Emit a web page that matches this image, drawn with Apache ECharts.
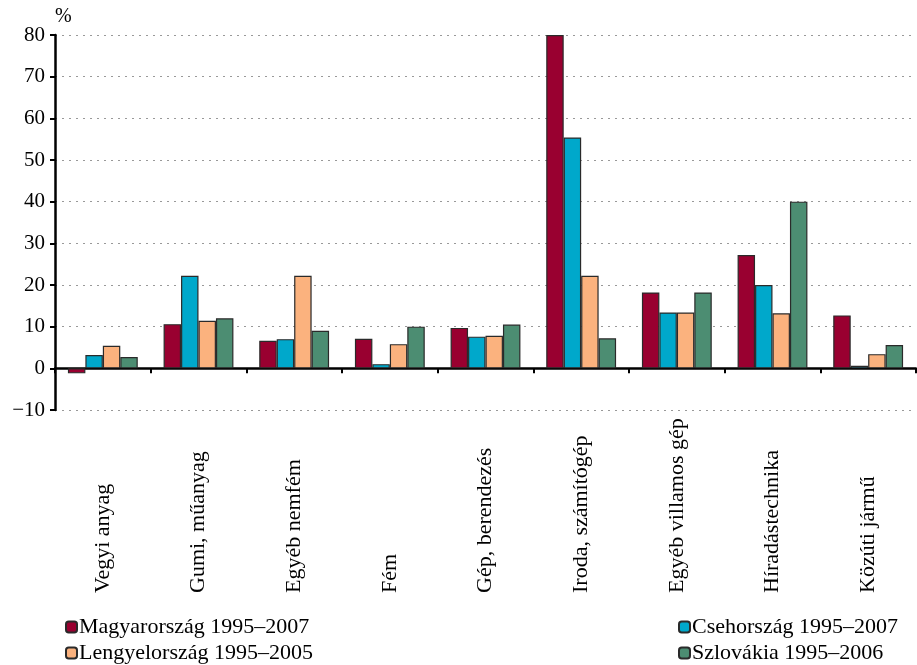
<!DOCTYPE html>
<html><head><meta charset="utf-8">
<script src="https://cdn.jsdelivr.net/npm/echarts@6/dist/echarts.min.js"></script>
<style>html,body{margin:0;padding:0;background:#fff}#c{width:917px;height:665px}</style>
</head><body><div id="c"></div>
<script>
const categories = ['Vegyi anyag','Gumi, műanyag','Egyéb nemfém','Fém','Gép, berendezés','Iroda, számítógép','Egyéb villamos gép','Híradástechnika','Közúti jármű'];
const seriesNames = ['Magyarország 1995–2007','Csehország 1995–2007','Lengyelország 1995–2005','Szlovákia 1995–2006'];
const magyar   = [-1.2, 10.6, 6.6, 7.1, 9.7, 80.0, 18.2, 27.2, 12.7];
const cseh     = [3.2, 22.2, 7.0, 1.0, 7.6, 55.4, 13.4, 20.0, 0.6];
const lengyel  = [5.4, 11.4, 22.2, 5.8, 7.8, 22.2, 13.4, 13.2, 3.4];
const szlovak  = [2.7, 12.0, 9.0, 10.0, 10.5, 7.2, 18.2, 40.0, 5.6];
const colors = ['#990030','#00A8CB','#FBB27E','#4C8D72'];
const values = [magyar, cseh, lengyel, szlovak];
const FONT = 'Liberation Serif';

const chart = echarts.init(document.getElementById('c'));
const legendText = {fontFamily: FONT, fontSize: 22, color: '#000', padding: [0,0,0,-3]};
chart.setOption({
  animation: false,
  textStyle: {fontFamily: FONT, color: '#000'},
  grid: {left: 55, right: 1, top: 35, bottom: 255, containLabel: false},
  legend: [
    {data: [seriesNames[0], seriesNames[2]], orient: 'vertical', left: 65, top: 616, itemWidth: 11, itemHeight: 11, itemGap: 4,
     textStyle: legendText, padding: 0},
    {data: [seriesNames[1], seriesNames[3]], orient: 'vertical', left: 678, top: 616, itemWidth: 11, itemHeight: 11, itemGap: 4,
     textStyle: legendText, padding: 0}
  ],
  xAxis: {
    type: 'category', data: categories,
    axisLine: {onZero: true, lineStyle: {color: '#000', width: 2.5}},
    axisTick: {show: true, length: 5, lineStyle: {color: '#000', width: 2}},
    axisLabel: {rotate: 90, align: 'left', verticalAlign: 'middle', margin: 183, fontFamily: FONT, fontSize: 22, color: '#000'},
    splitLine: {show: false}
  },
  yAxis: {
    type: 'value', min: -10, max: 80, interval: 10,
    name: '%', nameLocation: 'end', nameGap: 8,
    nameTextStyle: {fontFamily: FONT, fontSize: 20, color: '#000', align: 'left', padding: [0,0,0,0]},
    axisLine: {show: true, lineStyle: {color: '#000', width: 2.5}},
    axisTick: {show: true, length: 5, lineStyle: {color: '#000', width: 2}},
    axisLabel: {fontFamily: FONT, fontSize: 21, color: '#000', margin: 10,
      formatter: v => String(v).replace('-', '\u2212')},
    splitLine: {show: true, lineStyle: {color: '#999', type: [2,5], width: 1.2}}
  },
  series: seriesNames.map((n, i) => ({
    name: n, type: 'bar', data: values[i],
    barGap: '0%', barCategoryGap: '27%',
    itemStyle: {color: colors[i], borderColor: '#2a2a2a', borderWidth: 1.2}
  }))
});
</script></body></html>
